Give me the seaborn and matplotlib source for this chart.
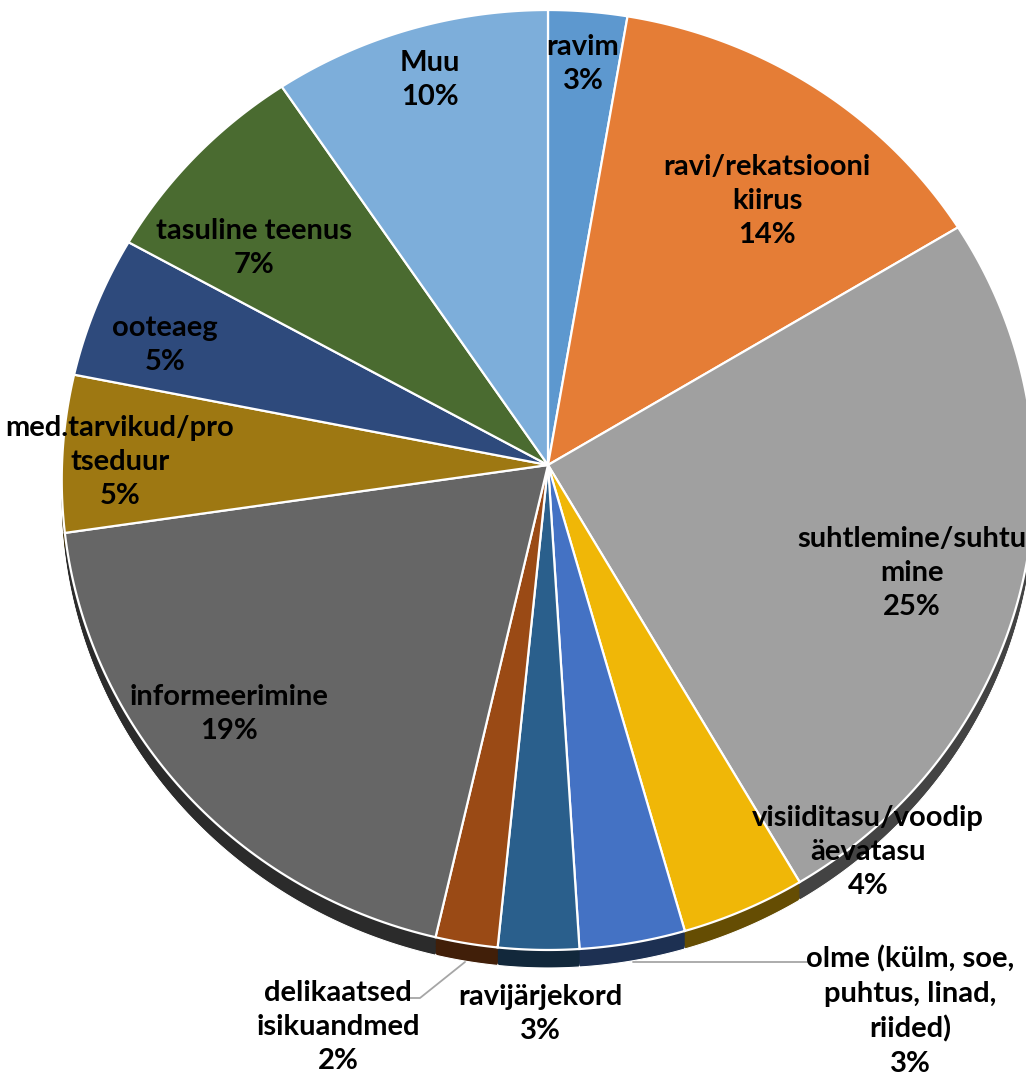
import matplotlib
matplotlib.use("Agg")
import numpy as np
import matplotlib.pyplot as plt
from matplotlib import font_manager
from matplotlib.path import Path
from matplotlib.transforms import Transform, Affine2D
import matplotlib.colors as mcolors
import seaborn as sns

categories = ["ravim", "ravi/rekatsiooni\nkiirus", "suhtlemine/suhtu\nmine",
              "visiiditasu/voodip\näevatasu", "olme (külm, soe,\npuhtus, linad,\nriided)",
              "ravijärjekord", "delikaatsed\nisikuandmed", "informeerimine",
              "med.tarvikud/pro\ntseduur", "ooteaeg", "tasuline teenus", "Muu"]
# shares (they round to the printed percentages)
values = [2.7, 13.7, 25.2, 4.0, 3.4, 2.6, 2.0, 19.1, 5.4, 4.9, 7.5, 9.5]
pct_labels = ["3%", "14%", "25%", "4%", "3%", "3%", "2%", "19%", "5%", "5%", "7%", "10%"]
colors = ["#5D98CF", "#E57D36", "#A0A0A0", "#F0B707", "#4472C4", "#2A5F8C",
          "#9A4A15", "#666666", "#9E7812", "#2E4A7C", "#4A6B30", "#7DAEDA"]

# label centre positions in pixels (x, y from top)
label_pos = [(583, 64), (767, 201), (912, 573), (868, 852), (910, 1011),
             (540, 1014), (338, 1027), (229, 714), (120, 462), (165, 345),
             (254, 248), (430, 80)]

sns.set_theme(style="white")
avail = {f.name for f in font_manager.fontManager.ttflist}
fam = "Liberation Sans Narrow" if "Liberation Sans Narrow" in avail else "Lato"
plt.rcParams["font.family"] = [fam, "DejaVu Sans"]

W, H = 1026, 1075
cx, cy = 548, 465          # apex of the pie in pixels
A, B, K = 486.0, 469.5, 0.0319
depth = 18


class Tilt(Transform):
    """Projective tilt of the unit disc (far side compressed)."""
    input_dims = output_dims = 2
    is_separable = False
    has_inverse = False

    def transform_non_affine(self, v):
        v = np.asarray(v, float).reshape(-1, 2)
        d = 1.0 + K * v[:, 1]
        return np.column_stack([A * v[:, 0] / d, B * v[:, 1] / d])

    def transform_path_non_affine(self, path):
        pts = []
        for seg, code in path.iter_bezier():
            if seg.degree == 0:
                pts.append(seg.control_points)
            else:
                pts.append(seg.point_at_t(np.linspace(0, 1, 40)))
        verts = np.concatenate(pts)
        return Path(self.transform_non_affine(verts), closed=True)


fig = plt.figure(figsize=(W / 100, H / 100), dpi=100)
ax = fig.add_axes([0, 0, 1, 1])
tilt = Tilt()

side_colors = [tuple(c * 0.42 for c in mcolors.to_rgb(col)) for col in colors]
nsteps = 14
for k in range(nsteps, 0, -1):
    off = depth * k / nsteps
    wedges, _ = ax.pie(values, colors=side_colors, startangle=90, counterclock=False,
                       radius=1, normalize=True,
                       wedgeprops=dict(linewidth=0.8 if k == nsteps else 0,
                                       edgecolor="white"))
    for w in wedges:
        w.set_transform(tilt + Affine2D().translate(0, -off) + ax.transData)

wedges, _ = ax.pie(values, colors=colors, startangle=90, counterclock=False,
                   radius=1, normalize=True,
                   wedgeprops=dict(linewidth=1.6, edgecolor="white"))
for w in wedges:
    w.set_transform(tilt + ax.transData)

ax.set_aspect("auto")
ax.set_xlim(-cx, W - cx)
ax.set_ylim(-(H - cy), cy)
ax.axis("off")


def px2d(x, y):
    return (x - cx, cy - y)


for cat, pct, (x, y) in zip(categories, pct_labels, label_pos):
    dx, dy = px2d(x, y)
    ax.text(dx, dy, cat + "\n" + pct, ha="center", va="center", fontsize=21,
            fontweight="bold", color="black", linespacing=1.4, zorder=10)

# leader lines
lx, ly = zip(*[px2d(465, 962), px2d(420, 998), px2d(409, 998)])
ax.plot(lx, ly, color="#A6A6A6", lw=1.3, zorder=9)
lx, ly = zip(*[px2d(633, 962), px2d(810, 962)])
ax.plot(lx, ly, color="#A6A6A6", lw=1.3, zorder=9)

fig.savefig("out.png", dpi=100, facecolor="white")
